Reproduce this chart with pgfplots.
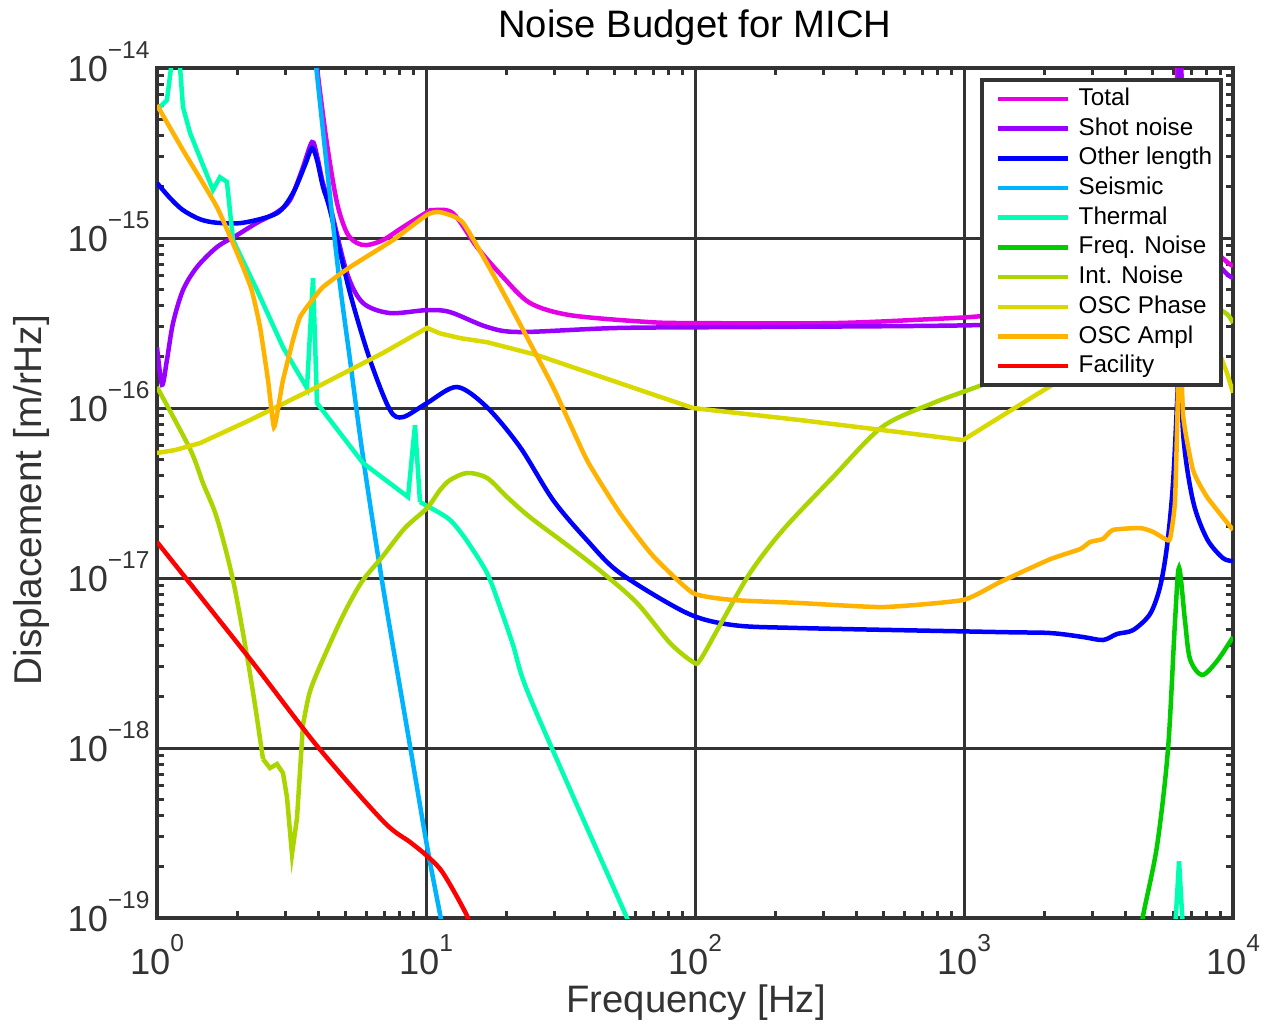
\documentclass[border=0pt]{standalone}
\usepackage{pgfplots}
\pgfplotsset{compat=1.18}
\usepackage{fontspec}
\setmainfont{Liberation Sans}
\definecolor{axgray}{HTML}{333333}
\definecolor{cTotal}{HTML}{E600E6}
\definecolor{cShot}{HTML}{9900FF}
\definecolor{cOther}{HTML}{0000FF}
\definecolor{cSeis}{HTML}{00B3FF}
\definecolor{cTherm}{HTML}{00FFB3}
\definecolor{cFreq}{HTML}{00CC00}
\definecolor{cInt}{HTML}{AAD500}
\definecolor{cPhase}{HTML}{D9D900}
\definecolor{cAmpl}{HTML}{FFB300}
\definecolor{cFac}{HTML}{FF0000}
\newcommand{\tl}[1]{10\raisebox{0.62em}{\fontsize{9.8}{10}\selectfont #1}}
\begin{document}
\begin{tikzpicture}
\path[use as bounding box] (-62.8pt,-43.2pt) rectangle (447.2pt,367.2pt);
\begin{axis}[
  scale only axis, width=430.4pt, height=340pt,
  xmode=log, ymode=log,
  xmin=1, xmax=10000, ymin=1e-19, ymax=1e-14,
  xtick={1,10,100,1000,10000},
  xticklabels={\tl{0},\tl{1},\tl{2},\tl{3},\tl{4}},
  ytick={1e-19,1e-18,1e-17,1e-16,1e-15,1e-14},
  yticklabels={\tl{−19},\tl{−18},\tl{−17},\tl{−16},\tl{−15},\tl{−14}},
  minor xtick={2,3,4,5,6,7,8,9,20,30,40,50,60,70,80,90,200,300,400,500,600,700,800,900,2000,3000,4000,5000,6000,7000,8000,9000},
  minor ytick={2e-19,3e-19,4e-19,5e-19,6e-19,7e-19,8e-19,9e-19,2e-18,3e-18,4e-18,5e-18,6e-18,7e-18,8e-18,9e-18,2e-17,3e-17,4e-17,5e-17,6e-17,7e-17,8e-17,9e-17,2e-16,3e-16,4e-16,5e-16,6e-16,7e-16,8e-16,9e-16,2e-15,3e-15,4e-15,5e-15,6e-15,7e-15,8e-15,9e-15},
  grid=major,
  major grid style={line width=1.2pt, color=axgray},
  axis line style={line width=1.6pt, color=axgray},
  every tick/.style={line width=1.2pt, color=axgray},
  major tick length=4.8pt, minor tick length=2.8pt,
  tick align=inside,
  ticklabel style={font=\fontsize{14.5}{17}\selectfont, text=axgray, inner sep=0pt},
  xticklabel style={anchor=base, yshift=-22.4pt},
  yticklabel style={anchor=base east, xshift=-2.8pt, yshift=-5.3pt},
  every axis title shift=0pt,
  title={Noise Budget for MICH},
  title style={at={(axis description cs:0.5,1.0365)}, anchor=base, font=\fontsize{15.3}{18}\selectfont, text=black, inner sep=0pt},
  xlabel={Frequency [Hz]},
  xlabel style={at={(axis description cs:0.501,-0.1106)}, anchor=base, font=\fontsize{15.3}{18}\selectfont, text=axgray, inner sep=0pt},
  ylabel={Displacement [m/rHz]},
  ylabel style={at={(axis description cs:-0.1069,0.4918)}, anchor=base, font=\fontsize{15.5}{18}\selectfont, text=axgray, inner sep=0pt},
  legend style={at={(axis description cs:0.9907,0.9882)}, anchor=north east, draw=axgray, line width=1.5pt, fill=white,
    font=\fontsize{9.7}{11}\selectfont, inner xsep=3.6pt, inner ysep=3pt, row sep=2.68pt, column sep=3.2pt,
    nodes={inner sep=0pt, text height=7.2pt, text depth=2pt}},
  legend cell align=left,
  legend image code/.code={\path (0pt,0pt) rectangle (0pt,0pt); \draw[#1] (2pt,0pt) -- (30pt,0pt);},
]
% Total
\addplot[cTotal, line width=1.8pt, smooth, tension=0.5] table {
3.88 1.3e-14
3.934 1.01e-14
4.28 3.62e-15
4.669 1.61e-15
5.085 1.07e-15
5.54 9.35e-16
6.036 9.09e-16
6.922 9.73e-16
8.214 1.16e-15
10.09 1.42e-15
10.62 1.46e-15
12.6 1.40e-15
15.47 8.85e-16
19.33 5.90e-16
24.36 4.15e-16
34.3 3.52e-16
66.31 3.21e-16
98.3 3.16e-16
325.9 3.16e-16
767.1 3.34e-16
1177 3.48e-16
2088 3.87e-16
3802 4.44e-16
5353 5.66e-16
5834 1.11e-15
6140 4.94e-15
6301 2e-14
6518 5.66e-15
6920 1.92e-15
7540 1.19e-15
8570 8.5e-16
9499 7.23e-16
10000 6.84e-16
};
\addlegendentry{Total}
% Shot noise
\addplot[cShot, line width=1.8pt, smooth, tension=0.5] table {
1.0 2.28e-16
1.044 1.37e-16
1.089 1.92e-16
1.147 3.16e-16
1.249 4.94e-16
1.408 6.75e-16
1.671 8.85e-16
1.983 1.04e-15
2.354 1.23e-15
2.793 1.42e-15
3.121 1.67e-15
3.46 2.51e-15
3.769 3.67e-15
3.934 3.05e-15
4.14 2.1e-15
4.397 1.56e-15
5.085 6.22e-16
5.833 4.15e-16
7.347 3.62e-16
10.09 3.77e-16
12.28 3.67e-16
16.86 3.00e-16
22.36 2.80e-16
52.62 2.96e-16
190 3.00e-16
1177 3.08e-16
3203 3.38e-16
5353 4.62e-16
5930 1.28e-15
6246 6.48e-15
6301 1.46e-14
6518 5.66e-15
6920 1.79e-15
7540 1.04e-15
8570 7.42e-16
9499 6.14e-16
10000 5.82e-16
};
\addlegendentry{Shot noise}
% Other length
\addplot[cOther, line width=1.8pt, smooth, tension=0.5] table {
1.0 2.11e-15
1.118 1.72e-15
1.249 1.46e-15
1.445 1.29e-15
1.671 1.23e-15
2.088 1.23e-15
2.793 1.40e-15
3.203 1.84e-15
3.55 2.69e-15
3.769 3.38e-15
3.934 2.88e-15
4.14 2.0e-15
4.397 1.46e-15
5.218 4.75e-16
6.193 1.92e-16
7.347 9.73e-17
8.214 8.85e-17
10.09 1.07e-16
13.04 1.33e-16
16.86 1.01e-16
22.36 5.90e-17
29.66 2.88e-17
39.67 1.67e-17
52.62 1.07e-17
93.4 6.22e-18
138.5 5.29e-18
245.6 5.08e-18
1361 4.81e-18
2088 4.75e-18
2770 4.50e-18
3286 4.32e-18
3705 4.69e-18
4250 4.94e-18
4913 6.14e-18
5353 8.85e-18
5685 1.54e-17
5984 3.62e-17
6246 1.46e-16
6353 3.5e-16
6518 7.23e-17
7101 2.84e-17
8004 1.70e-17
9179 1.31e-17
10000 1.26e-17
};
\addlegendentry{Other length}
% Seismic
\addplot[cSeis, line width=1.8pt, smooth, tension=0.5] table {
3.884 1.11e-14
4.669 7.42e-16
5.218 1.92e-16
5.833 5.15e-17
6.922 8.85e-18
8.721 1.03e-18
10.09 2.65e-19
11.27 1.06e-19
11.57 8.5e-20
};
\addlegendentry{Seismic}
% Thermal (part 1)
\addplot[cTherm, line width=1.8pt] table {
1.0 5.66e-15
1.089 6.48e-15
1.137 1.11e-14
1.16 2e-14
1.19 2e-14
1.218 1.01e-14
1.249 5.90e-15
1.327 4.15e-15
1.615 1.92e-15
1.715 2.28e-15
1.820 2.14e-15
1.917 9.73e-16
2.354 4.94e-16
2.940 2.28e-16
3.611 1.31e-16
3.802 5.82e-16
3.934 1.07e-16
5.833 4.75e-17
8.574 3.00e-17
9.101 7.94e-17
9.499 2.80e-17
};
\addlegendentry{Thermal}
% Thermal (part 2)
\addplot[cTherm, line width=1.8pt, smooth, tension=0.5, forget plot] table {
9.499 2.80e-17
11.57 2.35e-17
12.6 2.11e-17
14.21 1.65e-17
16.86 1.07e-17
18.84 6.75e-18
21.06 4.04e-18
23.74 2.19e-18
36.4 4.62e-19
55.88 1e-19
57.3 8.5e-20
};
% Freq. Noise
\addplot[cFreq, line width=1.8pt, smooth, tension=0.5] table {
4590 8.5e-20
4628 1.03e-19
5217 2.65e-19
5733 9.86e-19
6088 5.59e-18
6301 1.15e-17
6631 5.59e-18
6920 3.34e-18
7670 2.69e-18
8721 3.25e-18
10000 4.50e-18
};
\addlegendentry{Freq. Noise}
% Int. Noise (part A)
\addplot[cInt, line width=1.8pt, smooth, tension=0.5] table {
1.0 1.33e-16
1.327 5.74e-17
1.482 3.62e-17
1.671 2.25e-17
1.917 9.73e-18
2.161 3.48e-18
2.314 1.79e-18
2.478 8.61e-19
};
\addlegendentry{Int. Noise}
% Int. Noise (part B)
\addplot[cInt, line width=1.8pt, forget plot] table {
2.478 8.61e-19
2.631 7.63e-19
2.793 8.05e-19
2.940 7.13e-19
3.042 5.15e-19
3.176 2.38e-19
3.315 3.88e-19
3.489 1.37e-18
};
% Int. Noise (part C)
\addplot[cInt, line width=1.8pt, smooth, tension=0.5, forget plot] table {
3.489 1.37e-18
3.673 2.05e-18
3.934 2.76e-18
4.669 5.08e-18
5.218 7.23e-18
5.833 9.73e-18
6.922 1.35e-17
8.35 1.97e-17
10.09 2.58e-17
11.27 3.29e-17
12.28 3.77e-17
14.21 4.15e-17
16.86 3.88e-17
20.0 3.0e-17
24.36 2.28e-17
34.3 1.52e-17
45.5 1.07e-17
60.87 7.13e-18
80.74 4.15e-18
98.3 3.21e-18
104.4 3.29e-18
123.9 5.29e-18
160.1 1.07e-17
212.4 1.92e-17
325.9 3.93e-17
495.6 7.73e-17
767.1 1.07e-16
1217 1.40e-16
3203 2.51e-16
5353 3.38e-16
6631 4.32e-16
8214 4.04e-16
9499 3.57e-16
10000 3.16e-16
};
% OSC Phase
\addplot[cPhase, line width=1.8pt] table {
1.0 5.44e-17
1.166 5.66e-17
1.445 6.22e-17
2.217 8.50e-17
3.934 1.33e-16
6.922 2.11e-16
10.09 2.96e-16
11.27 2.75e-16
13.38 2.58e-16
16.86 2.44e-16
25.86 2.05e-16
52.62 1.40e-16
98.3 1.0e-16
245.6 8.50e-17
495.6 7.43e-17
991.5 6.48e-17
1361 8.85e-17
2275 1.46e-16
3802 2.41e-16
5353 3.38e-16
6631 4.62e-16
7870 3.30e-16
8950 2.05e-16
9499 1.61e-16
10000 1.23e-16
};
\addlegendentry{OSC Phase}
% OSC Ampl
\addplot[cAmpl, line width=1.8pt, smooth, tension=0.3] table {
1.0 6.06e-15
1.249 3.29e-15
1.671 1.52e-15
2.088 6.75e-16
2.255 4.87e-16
2.415 3.00e-16
2.586 1.46e-16
2.722 7.73e-17
2.866 1.16e-16
2.940 1.46e-16
3.203 2.51e-16
3.401 3.43e-16
3.705 4.15e-16
4.14 5.15e-16
5.218 6.75e-16
7.54 9.73e-16
10.09 1.37e-15
11.27 1.42e-15
13.73 1.23e-15
19.33 4.8e-16
29.66 1.33e-16
39.67 4.94e-17
52.62 2.41e-17
69.81 1.35e-17
98.3 8.16e-18
138.5 7.43e-18
245.6 7.13e-18
500 6.75e-18
991.5 7.43e-18
1361 9.47e-18
2088 1.29e-17
2700 1.48e-17
2940 1.63e-17
3286 1.70e-17
3579 1.92e-17
4511 1.97e-17
5041 1.87e-17
5588 1.70e-17
5834 1.70e-17
6088 2.84e-17
6246 1.28e-16
6353 4.0e-16
6518 9.22e-17
7101 4.32e-17
8004 3.00e-17
10000 1.92e-17
};
\addlegendentry{OSC Ampl}
% Facility
\addplot[cFac, line width=1.8pt, smooth, tension=0.5] table {
1.0 1.63e-17
2.217 3.34e-18
3.934 1.03e-18
6.922 3.72e-19
8.721 2.80e-19
10.09 2.32e-19
11.57 1.84e-19
14.21 1.03e-19
14.45 8.5e-20
};
\addlegendentry{Facility}
% Thermal spike near 6.3 kHz
\addplot[cTherm, line width=1.8pt, forget plot] table {
6088 8.5e-20
6301 2.16e-19
6518 8.5e-20
};
\end{axis}
\end{tikzpicture}
\end{document}
